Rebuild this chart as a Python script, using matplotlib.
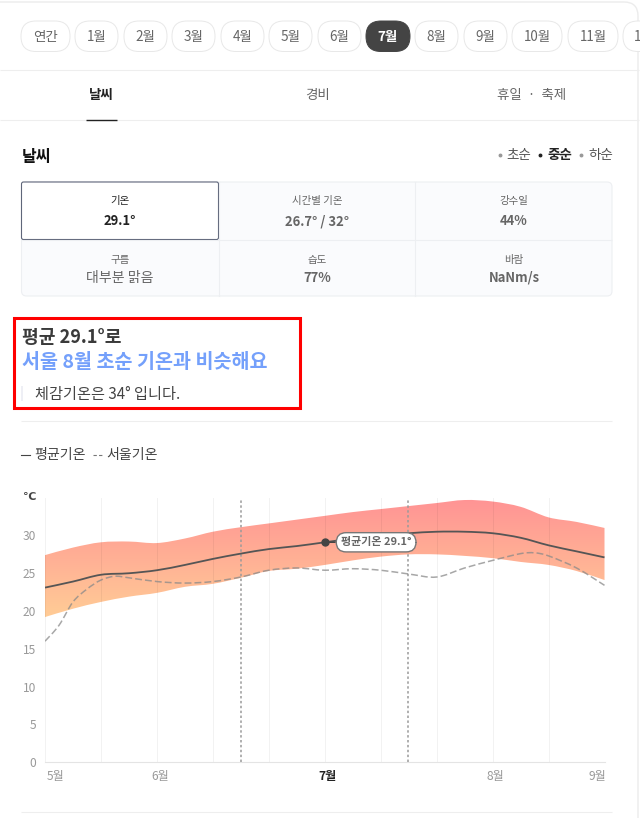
import matplotlib as mpl
mpl.use('Agg')
import matplotlib.pyplot as plt
from matplotlib.patches import FancyBboxPatch, Rectangle, PathPatch
from matplotlib.path import Path
import numpy as np

plt.rcParams['font.family'] = ['Noto Sans CJK KR', 'DejaVu Sans']

# chart data, x = steps between the grid lines (5월 = 0)
band_x = [0, 0.5, 1, 1.5, 2, 2.5, 3, 3.5, 4, 4.5, 5, 5.5, 6, 6.5, 7, 7.5, 8, 8.5, 9, 9.5, 10]
band_upper = [27.4, 28.4, 29.1, 29.2, 29.0, 29.6, 30.5, 31.1, 31.6, 32.1, 32.6, 33.1, 33.5, 33.9,
              34.3, 34.7, 34.5, 33.8, 32.4, 31.8, 31.0]
band_lower = [19.2, 20.3, 21.2, 21.9, 22.4, 23.2, 23.6, 24.4, 25.3, 25.6, 26.1, 26.7, 27.2, 27.5,
              27.5, 27.3, 27.0, 26.5, 26.1, 25.3, 24.1]
mean_temp = [23.1, 23.9, 24.8, 25.0, 25.4, 26.1, 26.9, 27.6, 28.2, 28.6, 29.1, 29.6, 30.0, 30.3,
             30.5, 30.5, 30.3, 29.7, 28.7, 27.9, 27.1]
seoul_x = [0, 0.25, 0.5, 0.75, 1, 1.25, 1.5, 2, 2.5, 3, 3.5, 4, 4.5, 5, 5.5, 6, 6.5, 7, 7.5, 8,
           8.5, 8.75, 9, 9.5, 10]
seoul_temp = [16.0, 18.1, 21.2, 22.9, 24.1, 24.6, 24.4, 23.9, 23.7, 23.9, 24.5, 25.4, 25.7, 25.4,
              25.6, 25.4, 24.9, 24.5, 25.7, 26.7, 27.6, 27.7, 27.3, 25.7, 23.4]
y_ticks = [0, 5, 10, 15, 20, 25, 30]
month_pos = [0.18, 2.05, 5.04, 8.04, 9.88]
month_labels = ['5월', '6월', '7월', '8월', '9월']
dotted_x = [3.5, 6.49]
marker_x = 5
marker_y = 29.1

# page widgets
pill_labels = ['연간', '1월', '2월', '3월', '4월', '5월', '6월', '7월', '8월', '9월', '10월', '11월', '12월']
pill_left = [21, 75, 124, 172, 221, 269, 318, 366, 415, 464, 512, 568, 623]
pill_right = [70, 118, 167, 215, 264, 312, 361, 410, 458, 507, 562, 618, 672]
table_labels = ['기온', '시간별 기온', '강수일', '구름', '습도', '바람']
table_values = ['29.1°', '26.7° / 32°', '44%', '대부분 맑음', '77%', 'NaNm/s']

fig = plt.figure(figsize=(6.43, 8.18), dpi=100, facecolor='white')
ui = fig.add_axes([0, 0, 1, 1])
ui.set_xlim(0, 643)
ui.set_ylim(818, 0)
ui.axis('off')


def px(size):
    return size * 0.72


def hline(y, x0, x1, color='#eeeeee', lw=0.8):
    ui.plot([x0, x1], [y, y], color=color, lw=lw, solid_capstyle='butt')


def curve(xs, ys):
    # bezier through the read points, the curve itself is left to matplotlib's Path
    pts = np.column_stack([xs, ys])
    verts = [pts[0]]
    for i in range(len(pts) - 1):
        prev = pts[max(i - 1, 0)]
        nxt = pts[min(i + 2, len(pts) - 1)]
        verts += [pts[i] + (pts[i + 1] - prev) / 6, pts[i + 1] - (nxt - pts[i]) / 6, pts[i + 1]]
    return np.array(verts), [Path.MOVETO] + [Path.CURVE4] * (len(verts) - 1)


# page frame
ui.add_patch(FancyBboxPatch((-30, 2), 668, 900, boxstyle='round,pad=0,rounding_size=14',
                            fc='none', ec='#ececec', lw=1))

# month pills
for lab, x0, x1 in zip(pill_labels, pill_left, pill_right):
    active = lab == '7월'
    ui.add_patch(FancyBboxPatch((x0, 21), x1 - x0, 30.5,
                                boxstyle='round,pad=0,rounding_size=15',
                                fc='#444444' if active else 'white',
                                ec='#444444' if active else '#e8e8e8', lw=0.7))
    ui.text((x0 + x1) / 2, 37, lab, ha='center', va='center', fontsize=px(13.5),
            color='white' if active else '#666666', fontweight='bold' if active else 'normal')
ui.add_patch(Rectangle((640, 3), 3, 62, fc='white', ec='none', zorder=5))
hline(70, 0, 639)

# tabs
ui.text(101.5, 95, '날씨', ha='center', va='center', fontsize=px(13.5), fontweight='bold', color='#222222')
ui.text(317, 95, '경비', ha='center', va='center', fontsize=px(13.5), color='#666666')
ui.text(532, 95, '휴일  ·  축제', ha='center', va='center', fontsize=px(13.5), color='#666666')
hline(119.5, 0, 639)
hline(119.5, 86, 117, color='#222222', lw=1)

# heading with period switch
ui.text(22, 157, '날씨', ha='left', va='center', fontsize=px(16), fontweight='bold', color='#111111')
ui.text(518.5, 155.5, '초순', ha='center', va='center', fontsize=px(13.5), color='#555555')
ui.text(559.5, 155.5, '중순', ha='center', va='center', fontsize=px(13.5), color='#222222', fontweight='bold')
ui.text(600.5, 155.5, '하순', ha='center', va='center', fontsize=px(13.5), color='#555555')
ui.plot([500, 581], [155, 155], ls='none', marker='o', ms=1.8, color='#999999')
ui.plot([540], [155], ls='none', marker='o', ms=1.8, color='#222222')

# table
ui.add_patch(FancyBboxPatch((21.5, 182), 590.5, 114, boxstyle='round,pad=0,rounding_size=5',
                            fc='#fafbfd', ec='#edeff2', lw=0.8))
ui.plot([218.5, 218.5], [182, 296], color='#edeff2', lw=0.8)
ui.plot([415, 415], [182, 296], color='#edeff2', lw=0.8)
hline(239.5, 21.5, 612, color='#edeff2')
ui.add_patch(FancyBboxPatch((21.5, 182), 197, 57.5, boxstyle='round,pad=0,rounding_size=2',
                            fc='white', ec='#5f667a', lw=0.8))
cell_x = [120, 317, 514, 120, 317, 514]
label_y = [201, 201, 201, 259.5, 259.5, 259.5]
value_y = [221, 221, 221, 278, 278, 278]
for i in range(6):
    ui.text(cell_x[i], label_y[i], table_labels[i], ha='center', va='center', fontsize=px(10.5),
            color='#222222' if i == 0 else '#666666')
    ui.text(cell_x[i], value_y[i], table_values[i], ha='center', va='center',
            fontsize=px(14) if i == 3 else px(13),
            fontweight='normal' if i == 3 else 'bold', color='#222222' if i == 0 else '#666666')

# summary box
ui.add_patch(Rectangle((13.5, 317.5), 286, 90, fc='none', ec='#ff0000', lw=2.2))
ui.text(22, 337.5, '평균 29.1°로', ha='left', va='center', fontsize=px(18.2), fontweight='bold', color='#3a3a3a')
ui.text(22, 362.5, '서울 8월 초순 기온과 비슷해요', ha='left', va='center', fontsize=px(19.6),
        fontweight='bold', color='#74a0fb')
ui.add_patch(Rectangle((21, 386), 2, 15, fc='#eeeff5', ec='none'))
ui.text(35, 395, '체감기온은 34° 입니다.', ha='left', va='center', fontsize=px(15.2), color='#444444')
hline(421, 21, 612)

# legend
ui.plot([21, 30], [455, 455], color='#444444', lw=0.8)
ui.text(34, 455.5, '평균기온', ha='left', va='center', fontsize=px(14), color='#444444')
ui.plot([93, 103], [455, 455], color='#777777', lw=0.8, ls=(0, (3, 2)))
ui.text(106, 455.5, '서울기온', ha='left', va='center', fontsize=px(14), color='#444444')
hline(812, 21, 612)

# chart, y scale taken from 0 at 762px and 7.55px per degree
top_px = 762 - 35 * 7.55
ax = fig.add_axes([45 / 643, (818 - 762) / 818, (604.5 - 45) / 643, (762 - top_px) / 818])
ax.patch.set_alpha(0)

grad = np.linspace(0, 1, 256)[:, None, None] * np.array([[[0, -58, -2]]]) + np.array([[[255, 205, 150]]])
im = ax.imshow(grad / 255, extent=[0, 10, 19, 35], origin='lower', aspect='auto', zorder=1)
up_v, up_c = curve(band_x, band_upper)
low_v, low_c = curve(band_x[::-1], band_lower[::-1])
band_path = Path(np.vstack([up_v, low_v]), up_c + [Path.LINETO] + low_c[1:])
band = PathPatch(band_path, transform=ax.transData, fc='none', ec='none')
ax.add_patch(band)
im.set_clip_path(band)
ax.set_xlim(0, 10)
ax.set_ylim(0, 35)

for gx in range(0, 11):
    ax.axvline(gx, color='black', alpha=0.05, lw=0.75, zorder=2)
for dx in dotted_x:
    ax.plot([dx, dx], [0, 34.7], color='#9a9a9a', lw=1.1, ls=(0, (1.6, 1.6)), zorder=3)

seoul_v, seoul_c = curve(seoul_x, seoul_temp)
ax.add_patch(PathPatch(Path(seoul_v, seoul_c), fc='none', ec='#8a8a8a', alpha=0.75, lw=1.1,
                       ls=(0, (4.5, 2)), zorder=4))
mean_v, mean_c = curve(band_x, mean_temp)
ax.add_patch(PathPatch(Path(mean_v, mean_c), fc='none', ec='#555555', lw=1.3, zorder=5))
ax.plot([marker_x], [marker_y], marker='o', ms=5, color='#444444', zorder=6)
ax.annotate('평균기온 29.1°', xy=(marker_x, marker_y), xytext=(37, 0), textcoords='offset points',
            ha='center', va='center', fontsize=px(11), fontweight='bold', color='#666666', zorder=7,
            bbox=dict(boxstyle='round,pad=0.42,rounding_size=0.9', fc='white', ec='#777777', lw=1),
            arrowprops=dict(arrowstyle='-', color='#444444', lw=1, shrinkA=0, shrinkB=0))

for s in ['top', 'right', 'left']:
    ax.spines[s].set_visible(False)
ax.spines['bottom'].set_color('#e4e4e4')
ax.set_yticks(y_ticks)
ax.set_yticklabels([str(v) for v in y_ticks], fontsize=px(12), color='#999999')
ax.tick_params(axis='y', length=0, pad=px(9))
ax.set_xticks(month_pos)
ax.set_xticklabels(month_labels, fontsize=px(12), color='#999999')
ax.tick_params(axis='x', length=0, pad=px(8))
ax.get_xticklabels()[2].set_color('#222222')
ax.get_xticklabels()[2].set_fontweight('bold')
ui.text(30, 496.5, '℃', ha='center', va='center', fontsize=px(11), color='#444444', fontweight='bold',
        family=['DejaVu Sans'])

fig.savefig('out.png', dpi=100)
